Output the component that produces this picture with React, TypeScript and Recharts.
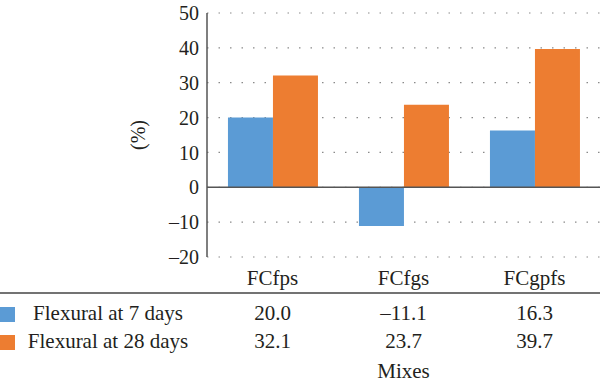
import React from "react";
import { BarChart, Bar, XAxis, YAxis, CartesianGrid, ReferenceLine } from "recharts";

const categories = ["FCfps", "FCfgs", "FCgpfs"];
const flexural7 = [20.0, -11.1, 16.3];
const flexural28 = [32.1, 23.7, 39.7];
const seriesNames = ["Flexural at 7 days", "Flexural at 28 days"];
const yTicks = [-20, -10, 0, 10, 20, 30, 40, 50];

const BLUE = "#5B9BD5";
const ORANGE = "#ED7D31";
const FONT = "Liberation Serif";
const TEXT = "#231f20";

const data = categories.map((c, i) => ({ name: c, d7: flexural7[i], d28: flexural28[i] }));

const fmt = (v: number) => (v < 0 ? "\u2013" + Math.abs(v).toFixed(1) : v.toFixed(1));
const fmtTick = (v: number) => (v < 0 ? "\u2013" + Math.abs(v) : String(v));

const TableTick = (props: any) => {
  const { x, y, payload } = props;
  const i = payload.index;
  const common = { x, textAnchor: "middle" as const, dominantBaseline: "central" as const, fill: TEXT, fontSize: 21, fontFamily: FONT };
  return (
    <g>
      <text {...common} y={y + 13}>{categories[i]}</text>
      <text {...common} y={y + 48}>{fmt(flexural7[i])}</text>
      <text {...common} y={y + 76}>{fmt(flexural28[i])}</text>
    </g>
  );
};

export default function App() {
  return (
    <div style={{ position: "absolute", left: 0, top: 0, width: 600, height: 386, background: "#fff" }}>
      <BarChart
        width={600}
        height={386}
        data={data}
        margin={{ top: 13, right: 0, left: 0, bottom: 0 }}
        barCategoryGap="16%"
        barGap={0}
        style={{ fontFamily: FONT }}
      >
        <CartesianGrid vertical={false} stroke="#8a8a8a" strokeDasharray="1.5 10" strokeWidth={1.2} />
        <XAxis
          dataKey="name"
          height={129}
          axisLine={false}
          tickLine={false}
          tick={<TableTick />}
          interval={0}
          label={{ value: "Mixes", position: "insideBottom", offset: 8, fill: TEXT, fontSize: 21, fontFamily: FONT }}
        />
        <YAxis
          width={207}
          domain={[-20, 50]}
          ticks={yTicks}
          interval={0}
          tickFormatter={fmtTick}
          axisLine={{ stroke: "#555", strokeWidth: 1.5 }}
          tickLine={false}
          tick={{ fill: TEXT, fontSize: 20, fontFamily: FONT }}
          label={{ value: "(%)", angle: -90, position: "center", dx: 34, fill: TEXT, fontSize: 20, fontFamily: FONT }}
        />
        <ReferenceLine y={0} stroke="#555" strokeWidth={1.5} />
        <Bar dataKey="d7" name={seriesNames[0]} fill={BLUE} isAnimationActive={false} />
        <Bar dataKey="d28" name={seriesNames[1]} fill={ORANGE} isAnimationActive={false} />
      </BarChart>
      <svg width={600} height={386} style={{ position: "absolute", left: 0, top: 0, pointerEvents: "none" }}>
        <line x1={0} x2={600} y1={293} y2={293} stroke="#444" strokeWidth={1.5} />
        <rect x={0} y={307} width={15} height={15} fill={BLUE} />
        <rect x={0} y={335} width={15} height={15} fill={ORANGE} />
        <text x={108} y={313} textAnchor="middle" dominantBaseline="central" fill={TEXT} fontSize={21} fontFamily={FONT}>{seriesNames[0]}</text>
        <text x={108} y={341} textAnchor="middle" dominantBaseline="central" fill={TEXT} fontSize={21} fontFamily={FONT}>{seriesNames[1]}</text>
      </svg>
    </div>
  );
}
